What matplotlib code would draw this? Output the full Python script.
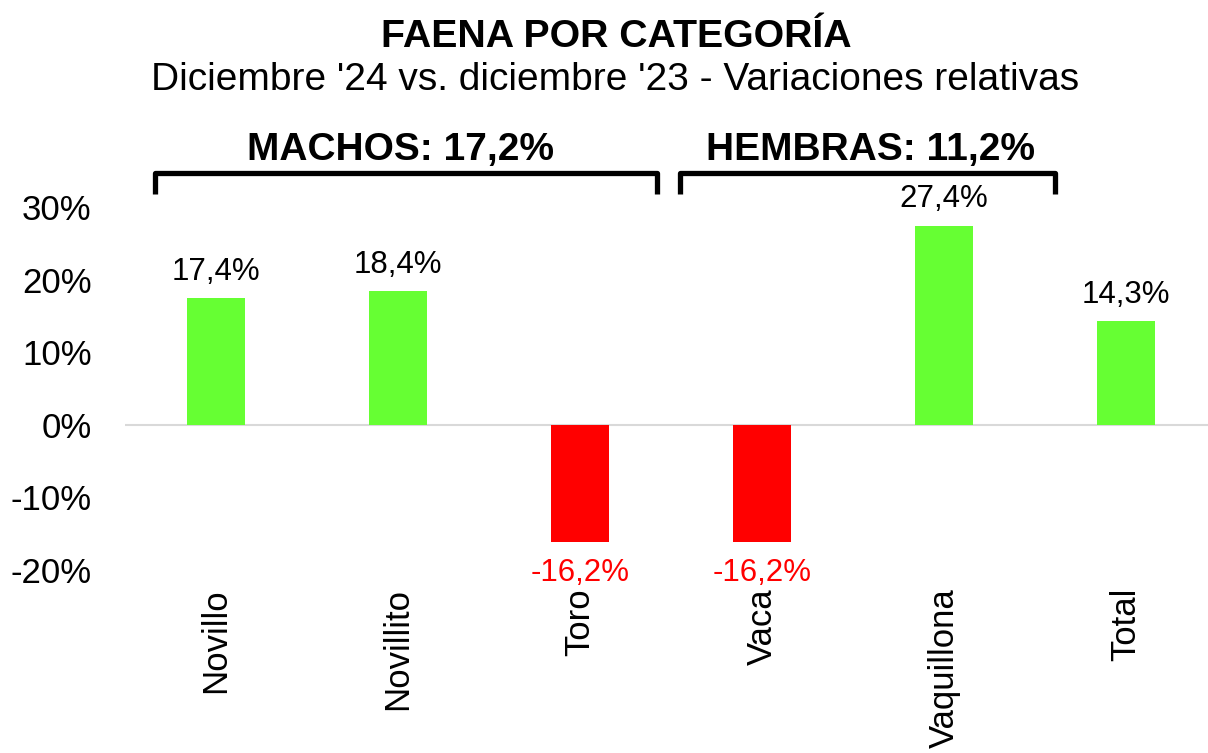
import matplotlib
matplotlib.use("Agg")
import matplotlib.pyplot as plt
from matplotlib.ticker import FuncFormatter

plt.rcParams['font.family'] = ['Liberation Sans', 'DejaVu Sans']

categories = ["Novillo", "Novillito", "Toro", "Vaca", "Vaquillona", "Total"]
values = [17.4, 18.4, -16.2, -16.2, 27.4, 14.3]
title = "FAENA POR CATEGORÍA"
subtitle = "Diciembre '24 vs. diciembre '23 - Variaciones relativas"
group_labels = ["MACHOS: 17,2%", "HEMBRAS: 11,2%"]

W, H = 1208, 753
fig = plt.figure(figsize=(W / 100, H / 100), dpi=100)
ax = fig.add_axes([125 / W, (H - 570) / H, (W - 125) / W, (570 - 207) / H])

pos_c = "#66FF33"
neg_c = "#FF0000"
x = list(range(len(categories)))
colors = [pos_c if v >= 0 else neg_c for v in values]
ax.bar(x, values, width=0.32, color=colors, zorder=2)
ax.axhline(0, color="#D9D9D9", lw=1.5, zorder=1)

for xi, v in zip(x, values):
    lab = f"{v:.1f}".replace(".", ",") + "%"
    if v >= 0:
        ax.annotate(lab, (xi, v), xytext=(0, 19), textcoords="offset points",
                    ha="center", va="center", fontsize=22.5, color="black")
    else:
        ax.annotate(lab, (xi, v), xytext=(0, -22), textcoords="offset points",
                    ha="center", va="center", fontsize=22.5, color=neg_c)

ax.set_xlim(-0.5, -0.5 + (W - 125) / 182)
ax.set_ylim(-20, 30)
ax.set_yticks([-20, -10, 0, 10, 20, 30])
ax.yaxis.set_major_formatter(FuncFormatter(lambda v, p: f"{v:.0f}%"))
ax.set_xticks(x)
ax.set_xticklabels(categories, rotation=90, fontsize=25)
ax.tick_params(axis="x", length=0, pad=13)
ax.tick_params(axis="y", length=0, pad=24, labelsize=25)
for s in ax.spines.values():
    s.set_visible(False)

fig.text(616 / W, 1 - 37 / H, title, ha="center", va="center", fontsize=28.3, fontweight="bold")
fig.text(615 / W, 1 - 80 / H, subtitle, ha="center", va="center", fontsize=28)

def px2y(py):
    return (424 - py) / 7.26

brackets = [((-0.335, 2.423), 400), ((2.549, 4.61), 871)]
for (x0, x1), cx in brackets:
    yt, yb = px2y(172), px2y(193)
    ax.plot([x0, x0, x1, x1], [yb, yt, yt, yb], color="black", lw=3.8,
            solid_joinstyle="round", solid_capstyle="butt", clip_on=False)
for lab, (_, cx) in zip(group_labels, brackets):
    fig.text(cx / W, 1 - 150 / H, lab, ha="center", va="center", fontsize=28, fontweight="bold")

fig.savefig("out.png", dpi=100)
